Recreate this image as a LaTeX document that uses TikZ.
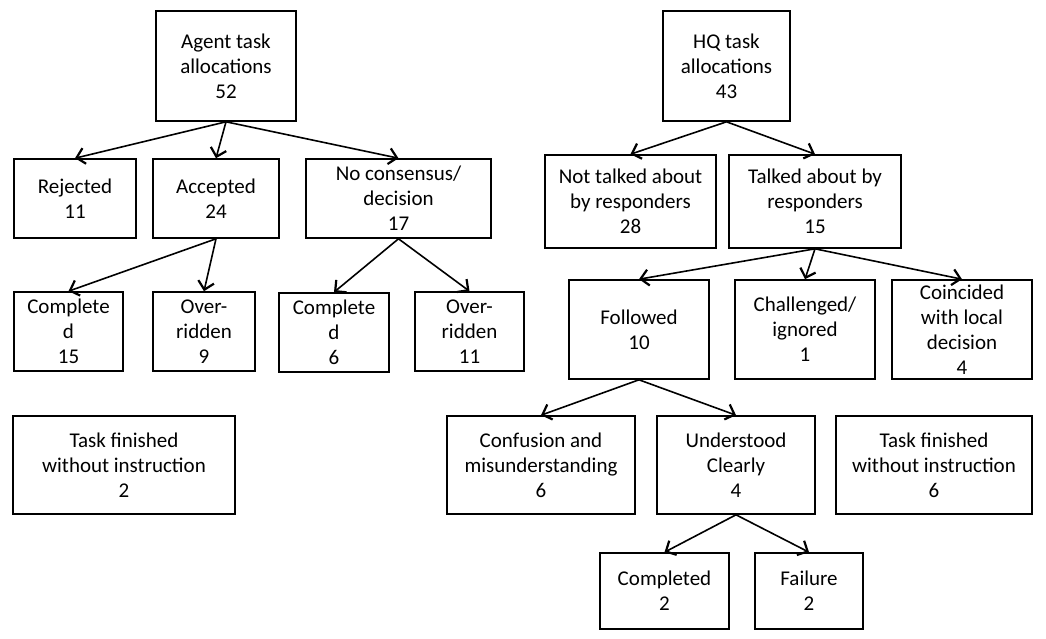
\documentclass[tikz,border=0pt]{standalone}
\usepackage{fontspec}
\setmainfont{Carlito}
\usepackage{tikz}
\usetikzlibrary{arrows.meta}

\begin{document}
\begin{tikzpicture}[x=1pt, y=-1pt, line width=1.6pt,
    >={Straight Barb[length=8pt,width=16pt,line width=2.2pt]},
    hop/.style={draw, align=center, inner sep=0pt, font=\fontsize{21}{25}\selectfont}]
    \useasboundingbox (0,0) rectangle (1046,638);

    % Nhánh Agent
    \node[hop, minimum width=140pt, minimum height=110pt] (agent) at (226,66) {Agent task\\allocations\\52};
    \node[hop, minimum width=122pt, minimum height=79pt] (rej) at (75,198.5) {Rejected\\11};
    \node[hop, minimum width=126pt, minimum height=79pt] (acc) at (216,198.5) {Accepted\\24};
    \node[hop, minimum width=185pt, minimum height=79pt] (nocon) at (398.5,198.5) {No consensus/\\decision\\17};
    \node[hop, minimum width=109pt, minimum height=79pt] (compa) at (68.5,331.5) {Complete\\d\\15};
    \node[hop, minimum width=102pt, minimum height=79pt] (overa) at (204,331.5) {Over-\\ridden\\9};
    \node[hop, minimum width=110pt, minimum height=79pt] (compb) at (334,332.5) {Complete\\d\\6};
    \node[hop, minimum width=109pt, minimum height=79pt] (overb) at (469.5,331.5) {Over-\\ridden\\11};
    \node[hop, minimum width=222pt, minimum height=98pt] (fina) at (124,465) {Task finished\\without instruction\\2};

    % Nhánh HQ
    \node[hop, minimum width=127pt, minimum height=110pt] (hq) at (726.5,66) {HQ task\\allocations\\43};
    \node[hop, minimum width=171pt, minimum height=93pt] (notalk) at (630.5,201.5) {Not talked about\\by responders\\28};
    \node[hop, minimum width=172pt, minimum height=93pt] (talk) at (815,201.5) {Talked about by\\responders\\15};
    \node[hop, minimum width=140pt, minimum height=99pt] (foll) at (639,329.5) {Followed\\10};
    \node[hop, minimum width=140pt, minimum height=99pt] (chall) at (805,329.5) {Challenged/\\ignored\\1};
    \node[hop, minimum width=140pt, minimum height=99pt] (coin) at (962,329.5) {Coincided\\with local\\decision\\4};
    \node[hop, minimum width=188pt, minimum height=98pt] (conf) at (541,465) {Confusion and\\misunderstanding\\6};
    \node[hop, minimum width=158pt, minimum height=98pt] (under) at (736,465) {Understood\\Clearly\\4};
    \node[hop, minimum width=196pt, minimum height=98pt] (finb) at (934,465) {Task finished\\without instruction\\6};
    \node[hop, minimum width=129pt, minimum height=76pt] (done) at (664.5,591) {Completed\\2};
    \node[hop, minimum width=108pt, minimum height=76pt] (fail) at (809,591) {Failure\\2};

    % Mũi tên
    \foreach \a/\b in {agent/rej, agent/acc, agent/nocon, acc/compa, acc/overa,
                       nocon/compb, nocon/overb, hq/notalk, hq/talk, talk/foll,
                       talk/chall, talk/coin, foll/conf, foll/under, under/done, under/fail} {
        \draw[->] (\a.south) -- (\b.north);
    }
\end{tikzpicture}
\end{document}
